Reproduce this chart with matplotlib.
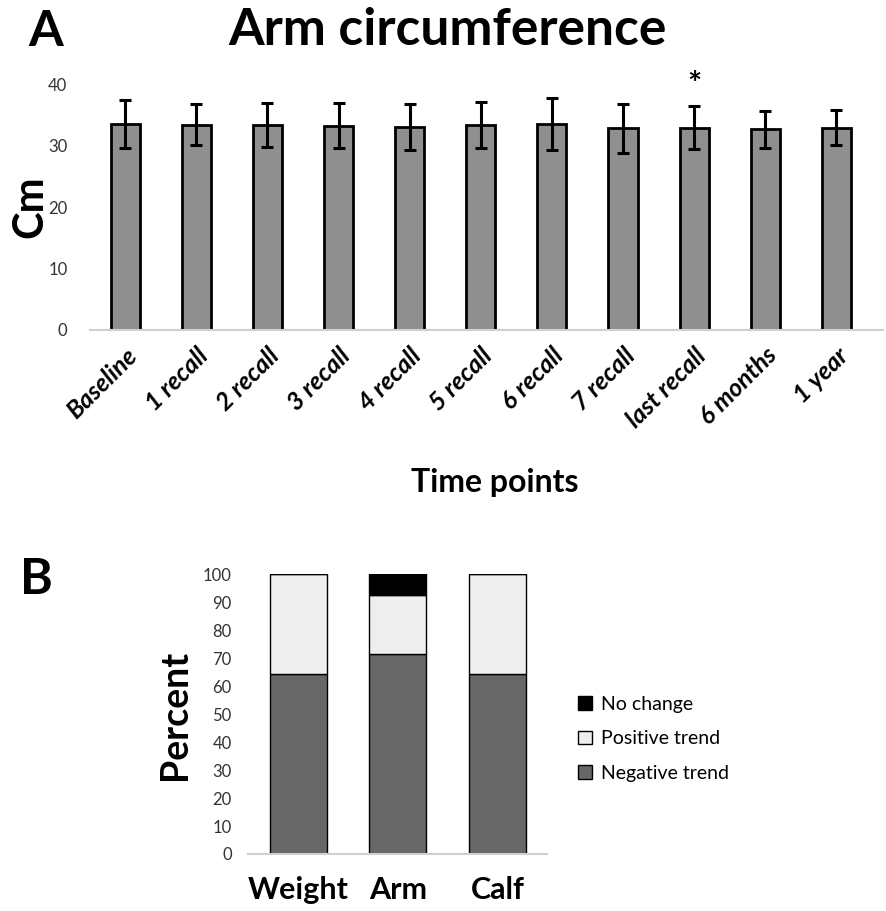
import numpy as np
import matplotlib
matplotlib.use('Agg')
import matplotlib.pyplot as plt
from matplotlib.patches import Patch

plt.rcParams['font.family'] = ['Lato', 'DejaVu Sans']

# Panel A: arm circumference over time points
time_points = ['Baseline', '1 recall', '2 recall', '3 recall', '4 recall', '5 recall',
               '6 recall', '7 recall', 'last recall', '6 months', '1 year']
arm_mean = [33.6, 33.5, 33.4, 33.3, 33.1, 33.4, 33.6, 32.9, 33.0, 32.7, 33.0]
arm_sd = [3.9, 3.4, 3.6, 3.7, 3.8, 3.8, 4.2, 4.0, 3.5, 3.0, 2.8]
star_index = 8

# Panel B: trend percentages
measures = ['Weight', 'Arm', 'Calf']
negative = [64.3, 71.4, 64.3]
positive = [35.7, 21.4, 35.7]
no_change = [0.0, 7.2, 0.0]

fig = plt.figure(figsize=(8.87, 9.11), dpi=100)

# ---- panel A
ax1 = fig.add_axes([0.101, 0.638, 0.894, 0.269])
x = np.arange(len(time_points))
ax1.bar(x, arm_mean, width=0.41, color='#8f8f8f', edgecolor='black', linewidth=2,
        yerr=arm_sd, error_kw=dict(ecolor='black', elinewidth=2.2, capsize=4, capthick=2.2))
ax1.set_ylim(0, 40)
ax1.set_xlim(-0.5, len(time_points) - 0.5 + 0.15)
ax1.set_yticks([0, 10, 20, 30, 40])
ax1.tick_params(axis='y', length=0, labelsize=12, labelcolor='#333333', pad=16)
ax1.tick_params(axis='x', length=0, pad=10)
ax1.set_xticks(x)
ax1.set_xticklabels(time_points, rotation=45, ha='right', rotation_mode='anchor',
                    fontsize=18, fontweight='bold', fontstyle='italic')
for s in ['top', 'right', 'left']:
    ax1.spines[s].set_visible(False)
ax1.spines['bottom'].set_color('#d0d0d0')
ax1.spines['bottom'].set_linewidth(1.5)
fig.text(0.034, 0.773, 'Cm', rotation=90, ha='center', va='center',
         fontsize=30, fontweight='bold')
fig.text(0.558, 0.470, 'Time points', ha='center', va='center',
         fontsize=23, fontweight='bold')
ax1.text(star_index, arm_mean[star_index] + arm_sd[star_index] + 1.0, '*',
         ha='center', va='bottom', fontsize=24, fontweight='bold')

fig.text(0.505, 0.967, 'Arm circumference', ha='center', va='center',
         fontsize=37, fontweight='bold')
fig.text(0.052, 0.965, 'A', ha='center', va='center', fontsize=36, fontweight='bold')

# ---- panel B
ax2 = fig.add_axes([0.28, 0.0626, 0.337, 0.3068])
xb = np.arange(len(measures))
ax2.bar(xb, negative, width=0.57, color='#676767', edgecolor='black', linewidth=1,
        label='Negative trend')
ax2.bar(xb, positive, width=0.57, bottom=negative, color='#eeeeee', edgecolor='black',
        linewidth=1, label='Positive trend')
ax2.bar(xb, no_change, width=0.57, bottom=np.add(negative, positive), color='black',
        edgecolor='black', linewidth=1, label='No change')
ax2.set_ylim(0, 100)
ax2.set_xlim(-0.5, len(measures) - 0.5)
ax2.set_yticks(np.arange(0, 101, 10))
ax2.tick_params(axis='y', length=0, labelsize=12, labelcolor='#333333', pad=12)
ax2.tick_params(axis='x', length=0, pad=16)
ax2.set_xticks(xb)
ax2.set_xticklabels(measures, fontsize=22, fontweight='bold')
for s in ['top', 'right', 'left']:
    ax2.spines[s].set_visible(False)
ax2.spines['bottom'].set_color('#d0d0d0')
ax2.spines['bottom'].set_linewidth(1.5)
fig.text(0.197, 0.215, 'Percent', rotation=90, ha='center', va='center',
         fontsize=27, fontweight='bold')

handles = [Patch(facecolor='black', edgecolor='black'),
           Patch(facecolor='#eeeeee', edgecolor='black'),
           Patch(facecolor='#676767', edgecolor='black')]
labels = ['No change', 'Positive trend', 'Negative trend']
fig.legend(handles, labels, loc='center left', bbox_to_anchor=(0.632, 0.189),
           frameon=False, fontsize=14, handlelength=0.7, handleheight=0.7,
           handletextpad=0.5, labelspacing=0.9)

fig.text(0.041, 0.364, 'B', ha='center', va='center', fontsize=36, fontweight='bold')

fig.savefig('out.png', dpi=100)
